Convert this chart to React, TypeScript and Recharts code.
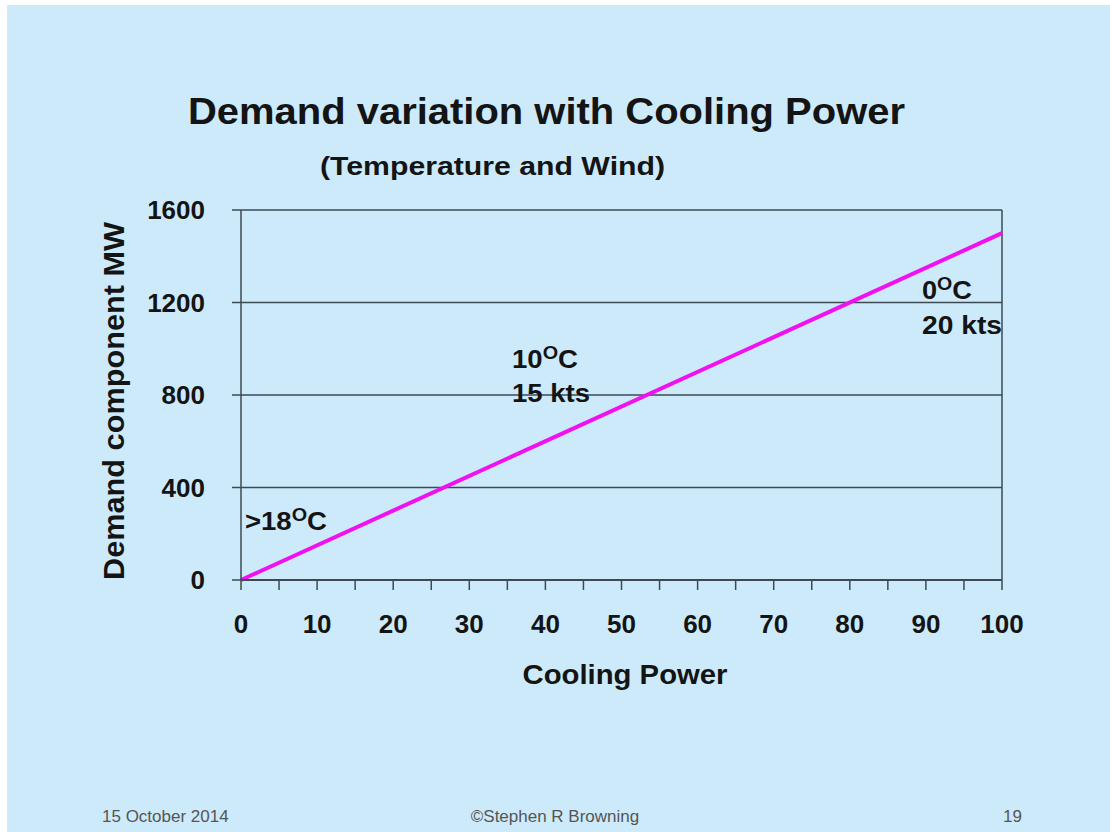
import React from 'react';
import { LineChart, Line, XAxis, YAxis, CartesianGrid, ReferenceLine } from 'recharts';

const coolingPower = [0, 100];
const demandMW = [0, 1500];
const xTicks = [0, 5, 10, 15, 20, 25, 30, 35, 40, 45, 50, 55, 60, 65, 70, 75, 80, 85, 90, 95, 100];
const yTicks = [0, 400, 800, 1200, 1600];

const titleText = 'Demand variation with Cooling Power';
const subtitleText = '(Temperature and Wind)';
const yTitle = 'Demand component MW';
const xTitle = 'Cooling Power';
const footerDate = '15 October 2014';
const footerAuthor = '\u00A9Stephen R Browning';
const footerPage = '19';

const data = coolingPower.map((x, i) => ({ x, y: demandMW[i] }));

const FONT = '"Liberation Sans", Arial, sans-serif';
const BG = '#cdeafb';
const AX = '#3d4a52';
const INK = '#141414';

const tickStyle = { fill: INK, fontSize: 26, fontWeight: 700, fontFamily: FONT };

export default function App() {
  return (
    <div style={{ position: 'absolute', left: 0, top: 0, width: 1110, height: 832, background: '#ffffff', overflow: 'hidden' }}>
      <div style={{ position: 'absolute', left: 7, top: 5, width: 1103, height: 827, background: BG }} />
      <div style={{ position: 'absolute', left: 0, top: 0 }}>
        <LineChart
          width={1110}
          height={832}
          data={data}
          margin={{ top: 210, right: 108, bottom: 192, left: 141 }}
        >
          <CartesianGrid vertical={false} stroke={AX} strokeWidth={1.5} />
          <XAxis
            type="number"
            dataKey="x"
            domain={[0, 100]}
            ticks={xTicks}
            interval={0}
            tickFormatter={(v: number) => (v % 10 === 0 ? String(v) : '')}
            tickSize={10}
            tickMargin={25}
            height={60}
            stroke={AX}
            strokeWidth={2}
            tick={tickStyle}
            tickLine={{ stroke: AX, strokeWidth: 1.5 }}
          />
          <YAxis
            type="number"
            domain={[0, 1600]}
            ticks={yTicks}
            interval={0}
            width={100}
            tickSize={9}
            tickMargin={27}
            stroke={AX}
            strokeWidth={1.5}
            tick={tickStyle}
          />
          <ReferenceLine x={100} stroke={AX} strokeWidth={1.5} />
          <Line
            type="linear"
            dataKey="y"
            stroke="#f010f0"
            strokeWidth={4}
            dot={false}
            isAnimationActive={false}
          />
        </LineChart>
      </div>
      <svg width={1110} height={832} style={{ position: 'absolute', left: 0, top: 0, pointerEvents: 'none' }}>
        <g fontFamily={FONT} fontWeight={700} fill={INK}>
          <text x={188} y={124} fontSize={37} textLength={717} lengthAdjust="spacingAndGlyphs">{titleText}</text>
          <text x={320} y={175} fontSize={25} textLength={345} lengthAdjust="spacingAndGlyphs">{subtitleText}</text>
          <text x={124} y={401} fontSize={29} textAnchor="middle" textLength={358} lengthAdjust="spacingAndGlyphs" transform="rotate(-90 124 401)">{yTitle}</text>
          <text x={625} y={684} fontSize={28} textAnchor="middle" textLength={205} lengthAdjust="spacingAndGlyphs">{xTitle}</text>
          <text x={245} y={530} fontSize={25} textLength={82} lengthAdjust="spacingAndGlyphs">
            {'>18'}<tspan fontSize={18} dy={-9}>O</tspan><tspan dy={9}>C</tspan>
          </text>
          <text x={512} y={368} fontSize={25} textLength={66} lengthAdjust="spacingAndGlyphs">
            {'10'}<tspan fontSize={18} dy={-9}>O</tspan><tspan dy={9}>C</tspan>
          </text>
          <text x={512} y={402} fontSize={25} textLength={78} lengthAdjust="spacingAndGlyphs">15 kts</text>
          <text x={922} y={299} fontSize={25} textLength={50} lengthAdjust="spacingAndGlyphs">
            {'0'}<tspan fontSize={18} dy={-9}>O</tspan><tspan dy={9}>C</tspan>
          </text>
          <text x={922} y={334} fontSize={25} textLength={80} lengthAdjust="spacingAndGlyphs">20 kts</text>
        </g>
        <g fontFamily={FONT} fontSize={17} fill="#555">
          <text x={102} y={822}>{footerDate}</text>
          <text x={555} y={822} textAnchor="middle">{footerAuthor}</text>
          <text x={1003} y={822}>{footerPage}</text>
        </g>
      </svg>
    </div>
  );
}
